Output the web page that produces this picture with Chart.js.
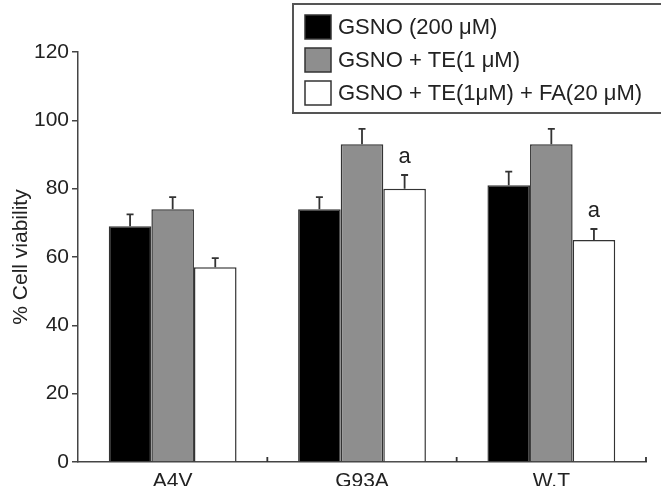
<!DOCTYPE html>
<html lang="en">
<head>
  <meta charset="UTF-8">
  <title>Cell viability</title>
  <script src="https://cdn.jsdelivr.net/npm/chart.js"></script>
  <style>
    body { margin: 0; background: #fff; }
  </style>
</head>
<body>
  <canvas id="chart" width="661" height="486"></canvas>

  <script>
    const categories = ['A4V', 'G93A', 'W.T'];
    const seriesNames = ['GSNO (200 \u03bcM)', 'GSNO + TE(1 \u03bcM)', 'GSNO + TE(1\u03bcM) + FA(20 \u03bcM)'];
    const gsno = [69, 74, 81];
    const gsnoErr = [3.5, 3.5, 4];
    const gsnoTe = [74, 93, 93];
    const gsnoTeErr = [3.5, 4.5, 4.5];
    const gsnoTeFa = [57, 80, 65];
    const gsnoTeFaErr = [2.7, 4, 3.2];
    const teFaMarks = ['', 'a', 'a'];
    const yTicks = [0, 20, 40, 60, 80, 100, 120];

    const FONT = '"Liberation Sans", Arial, sans-serif';
    const INK = '#222';

    const errorBars = {
      id: 'errorBars',
      afterDatasetsDraw(chart) {
        const ctx = chart.ctx;
        const y = chart.scales.y;
        ctx.save();
        ctx.strokeStyle = '#333';
        ctx.lineWidth = 1.8;
        chart.data.datasets.forEach((ds, i) => {
          const meta = chart.getDatasetMeta(i);
          meta.data.forEach((bar, j) => {
            const top = y.getPixelForValue(ds.data[j]);
            const cap = y.getPixelForValue(ds.data[j] + ds.errors[j]);
            ctx.beginPath();
            ctx.moveTo(bar.x, top);
            ctx.lineTo(bar.x, cap);
            ctx.moveTo(bar.x - 3.5, cap);
            ctx.lineTo(bar.x + 3.5, cap);
            ctx.stroke();
            if (ds.marks && ds.marks[j]) {
              ctx.fillStyle = INK;
              ctx.font = '22px ' + FONT;
              ctx.textAlign = 'center';
              ctx.textBaseline = 'alphabetic';
              ctx.fillText(ds.marks[j], bar.x, cap - 12);
            }
          });
        });

        // small inward ticks on the x axis between groups
        const x = chart.scales.x;
        const base = chart.chartArea.bottom;
        const step = x.getPixelForValue(1) - x.getPixelForValue(0);
        ctx.beginPath();
        for (let k = 0; k < categories.length; k++) {
          const px = x.getPixelForValue(k) + step / 2;
          ctx.moveTo(px, base);
          ctx.lineTo(px, base - 5);
        }
        ctx.stroke();
        ctx.restore();
      }
    };

    const boxLegend = {
      id: 'boxLegend',
      afterDraw(chart) {
        const ctx = chart.ctx;
        ctx.save();
        ctx.fillStyle = '#fff';
        ctx.fillRect(293, 4, 400, 109);
        ctx.strokeStyle = '#555';
        ctx.lineWidth = 2;
        ctx.strokeRect(293, 4, 400, 109);
        ctx.font = '22px ' + FONT;
        ctx.textBaseline = 'middle';
        ctx.textAlign = 'left';
        chart.data.datasets.forEach((ds, i) => {
          const cy = 27 + i * 33;
          ctx.fillStyle = ds.backgroundColor;
          ctx.fillRect(305, cy - 12, 26, 24);
          ctx.strokeStyle = '#333';
          ctx.lineWidth = 1.5;
          ctx.strokeRect(305, cy - 12, 26, 24);
          ctx.fillStyle = INK;
          ctx.fillText(ds.label, 338, cy + 1);
        });
        ctx.restore();
      }
    };

    new Chart(document.getElementById('chart').getContext('2d'), {
      type: 'bar',
      data: {
        labels: categories,
        datasets: [
          { label: seriesNames[0], data: gsno, errors: gsnoErr, backgroundColor: '#000' },
          { label: seriesNames[1], data: gsnoTe, errors: gsnoTeErr, backgroundColor: '#8e8e8e' },
          { label: seriesNames[2], data: gsnoTeFa, errors: gsnoTeFaErr, marks: teFaMarks, backgroundColor: '#fff' }
        ].map(ds => Object.assign(ds, {
          borderColor: '#333',
          borderWidth: 1.5,
          categoryPercentage: 0.675,
          barPercentage: 1
        }))
      },
      options: {
        responsive: false,
        animation: false,
        layout: { padding: { left: 0, right: 15, top: 52, bottom: 0 } },
        plugins: {
          legend: { display: false },
          tooltip: { enabled: false }
        },
        scales: {
          x: {
            grid: { display: false },
            border: { display: true, color: '#444', width: 1.5 },
            ticks: { color: INK, font: { family: FONT, size: 21 }, padding: -1 },
            afterFit(scale) { scale.height = 24; }
          },
          y: {
            min: 0,
            max: 120,
            afterBuildTicks(scale) { scale.ticks = yTicks.map(v => ({ value: v })); },
            grid: { drawOnChartArea: false, drawTicks: true, tickLength: 6, color: '#444', lineWidth: 1.5 },
            border: { display: true, color: '#444', width: 1.5 },
            ticks: { color: INK, font: { family: FONT, size: 21 }, padding: 3 },
            title: {
              display: true,
              text: '% Cell viability',
              color: INK,
              font: { family: FONT, size: 21 },
              padding: { top: 9, bottom: 0 }
            },
            afterFit(scale) { scale.width = 78; }
          }
        }
      },
      plugins: [errorBars, boxLegend]
    });
  </script>
</body>
</html>
